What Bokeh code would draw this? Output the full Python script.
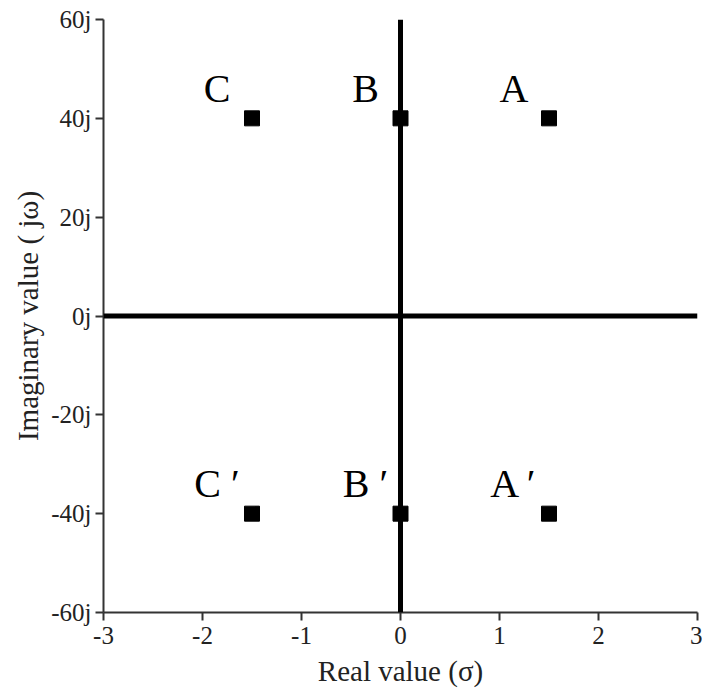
from bokeh.plotting import figure
from bokeh.models import Range1d, FixedTicker, Span, ColumnDataSource
from bokeh.core.properties import value
from bokeh.embed import file_html
from bokeh.resources import INLINE

# data
point_labels = ["A", "B", "C", "A \u2032", "B \u2032", "C \u2032"]
real_vals = [1.5, 0.0, -1.5, 1.5, 0.0, -1.5]
imag_vals = [40, 40, 40, -40, -40, -40]

x_ticks = [-3, -2, -1, 0, 1, 2, 3]
x_tick_labels = ["-3", "-2", "-1", "0", "1", "2", "3"]
y_ticks = [-60, -40, -20, 0, 20, 40, 60]
y_tick_labels = ["-60j", "-40j", "-20j", "0j", "20j", "40j", "60j"]

FONT = "Liberation Serif"

p = figure(width=702, height=692, output_backend="svg", toolbar_location=None,
           x_range=Range1d(-3, 3), y_range=Range1d(-60, 60),
           min_border_left=103, min_border_right=5, min_border_top=19,
           min_border_bottom=80)
p.outline_line_color = None
p.xgrid.visible = False
p.ygrid.visible = False
p.background_fill_color = "white"
p.border_fill_color = "white"

p.xaxis.ticker = FixedTicker(ticks=x_ticks)
p.xaxis.major_label_overrides = {t: l for t, l in zip(x_ticks, x_tick_labels)}
p.yaxis.ticker = FixedTicker(ticks=y_ticks)
p.yaxis.major_label_overrides = {t: l for t, l in zip(y_ticks, y_tick_labels)}

p.xaxis.axis_label = "Real value (\u03c3)"
p.yaxis.axis_label = "Imaginary value ( j\u03c9)"

for ax in (p.xaxis, p.yaxis):
    ax.axis_line_color = "#333333"
    ax.axis_line_width = 2
    ax.major_tick_line_color = "#333333"
    ax.major_tick_line_width = 2
    ax.major_tick_out = 8
    ax.major_tick_in = 0
    ax.minor_tick_line_color = None
    ax.major_label_text_font = FONT
    ax.major_label_text_font_size = "25px"
    ax.major_label_text_color = "#222222"
    ax.axis_label_text_font = FONT
    ax.axis_label_text_font_size = "29px"
    ax.axis_label_text_font_style = "normal"
    ax.axis_label_text_color = "#222222"

p.xaxis.major_label_standoff = 6
p.yaxis.major_label_standoff = 4
p.xaxis.axis_label_standoff = 8
p.yaxis.axis_label_standoff = 4

p.add_layout(Span(location=0, dimension="height", line_color="black", line_width=5))
p.add_layout(Span(location=0, dimension="width", line_color="black", line_width=5))

src = ColumnDataSource(dict(x=real_vals, y=imag_vals, label=point_labels))
p.scatter("x", "y", source=src, marker="square", size=15,
          fill_color="black", line_color="black")
p.text("x", "y", text="label", source=src, x_offset=-35, y_offset=-30,
       text_align="center", text_baseline="alphabetic",
       text_font=value(FONT), text_font_size="40px", text_color="black")

open("out.html", "w").write(file_html(p, INLINE))
